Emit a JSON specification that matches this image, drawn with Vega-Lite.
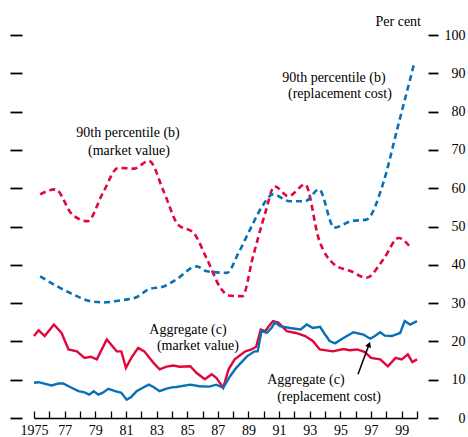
{
  "$schema": "https://vega.github.io/schema/vega-lite/v6.json",
  "width": 383,
  "height": 383,
  "autosize": {"type": "none"},
  "padding": {"left": 34, "top": 35, "right": 51, "bottom": 19},
  "background": "white",
  "config": {"view": {"stroke": null}, "font": "Liberation Serif"},
  "resolve": {"scale": {"y": "shared", "x": "shared"}, "axis": {"y": "independent", "x": "independent"}},
  "datasets": {
    "pct": [
      {"series": "mv", "year": 1975.4, "value": 58.4},
      {"series": "mv", "year": 1976.4, "value": 59.7},
      {"series": "mv", "year": 1977.5, "value": 53.1},
      {"series": "mv", "year": 1978.5, "value": 51.4},
      {"series": "mv", "year": 1979.5, "value": 58.8},
      {"series": "mv", "year": 1980.5, "value": 65.3},
      {"series": "mv", "year": 1981.5, "value": 65.1},
      {"series": "mv", "year": 1982.5, "value": 67.1},
      {"series": "mv", "year": 1983.5, "value": 58.8},
      {"series": "mv", "year": 1984.4, "value": 50.5},
      {"series": "mv", "year": 1985.4, "value": 48.4},
      {"series": "mv", "year": 1986.3, "value": 41.4},
      {"series": "mv", "year": 1987.2, "value": 33.8},
      {"series": "mv", "year": 1987.7, "value": 32.0},
      {"series": "mv", "year": 1988.6, "value": 31.8},
      {"series": "mv", "year": 1989.3, "value": 42.2},
      {"series": "mv", "year": 1990.1, "value": 53.6},
      {"series": "mv", "year": 1990.7, "value": 60.5},
      {"series": "mv", "year": 1991.6, "value": 57.9},
      {"series": "mv", "year": 1992.7, "value": 61.0},
      {"series": "mv", "year": 1993.6, "value": 46.6},
      {"series": "mv", "year": 1994.6, "value": 40.1},
      {"series": "mv", "year": 1995.7, "value": 38.3},
      {"series": "mv", "year": 1996.7, "value": 36.6},
      {"series": "mv", "year": 1997.8, "value": 41.4},
      {"series": "mv", "year": 1998.8, "value": 47.0},
      {"series": "mv", "year": 1999.6, "value": 44.4},
      {"series": "rc", "year": 1975.4, "value": 37.0},
      {"series": "rc", "year": 1976.5, "value": 34.4},
      {"series": "rc", "year": 1977.6, "value": 32.2},
      {"series": "rc", "year": 1978.7, "value": 30.5},
      {"series": "rc", "year": 1979.6, "value": 30.2},
      {"series": "rc", "year": 1980.6, "value": 30.7},
      {"series": "rc", "year": 1981.6, "value": 31.4},
      {"series": "rc", "year": 1982.5, "value": 33.6},
      {"series": "rc", "year": 1983.5, "value": 34.4},
      {"series": "rc", "year": 1984.3, "value": 36.2},
      {"series": "rc", "year": 1985.6, "value": 39.6},
      {"series": "rc", "year": 1986.3, "value": 38.3},
      {"series": "rc", "year": 1987.6, "value": 37.9},
      {"series": "rc", "year": 1988.3, "value": 42.7},
      {"series": "rc", "year": 1989.1, "value": 49.2},
      {"series": "rc", "year": 1989.9, "value": 55.3},
      {"series": "rc", "year": 1990.6, "value": 58.4},
      {"series": "rc", "year": 1991.7, "value": 56.6},
      {"series": "rc", "year": 1992.7, "value": 56.6},
      {"series": "rc", "year": 1993.6, "value": 59.7},
      {"series": "rc", "year": 1994.6, "value": 49.7},
      {"series": "rc", "year": 1995.7, "value": 51.4},
      {"series": "rc", "year": 1996.7, "value": 51.8},
      {"series": "rc", "year": 1997.8, "value": 61.4},
      {"series": "rc", "year": 1998.7, "value": 75.3},
      {"series": "rc", "year": 1999.8, "value": 92.3}
    ],
    "agg": [
      {"series": "mv", "year": 1975.0, "value": 21.4},
      {"series": "mv", "year": 1975.3, "value": 22.9},
      {"series": "mv", "year": 1975.7, "value": 21.4},
      {"series": "mv", "year": 1976.3, "value": 24.4},
      {"series": "mv", "year": 1976.8, "value": 22.2},
      {"series": "mv", "year": 1977.25, "value": 17.9},
      {"series": "mv", "year": 1977.8, "value": 17.4},
      {"series": "mv", "year": 1978.3, "value": 15.7},
      {"series": "mv", "year": 1978.7, "value": 16.0},
      {"series": "mv", "year": 1979.1, "value": 15.3},
      {"series": "mv", "year": 1979.75, "value": 20.5},
      {"series": "mv", "year": 1980.4, "value": 17.4},
      {"series": "mv", "year": 1980.7, "value": 17.4},
      {"series": "mv", "year": 1981.0, "value": 13.1},
      {"series": "mv", "year": 1981.35, "value": 15.7},
      {"series": "mv", "year": 1981.8, "value": 18.3},
      {"series": "mv", "year": 1982.2, "value": 17.4},
      {"series": "mv", "year": 1982.8, "value": 14.4},
      {"series": "mv", "year": 1983.2, "value": 12.7},
      {"series": "mv", "year": 1983.65, "value": 13.4},
      {"series": "mv", "year": 1984.1, "value": 13.7},
      {"series": "mv", "year": 1984.5, "value": 13.4},
      {"series": "mv", "year": 1985.2, "value": 13.5},
      {"series": "mv", "year": 1985.6, "value": 11.8},
      {"series": "mv", "year": 1986.15, "value": 10.1},
      {"series": "mv", "year": 1986.6, "value": 11.4},
      {"series": "mv", "year": 1986.9, "value": 10.5},
      {"series": "mv", "year": 1987.35, "value": 7.9},
      {"series": "mv", "year": 1987.7, "value": 12.7},
      {"series": "mv", "year": 1988.1, "value": 15.3},
      {"series": "mv", "year": 1988.8, "value": 17.4},
      {"series": "mv", "year": 1989.2, "value": 17.9},
      {"series": "mv", "year": 1989.5, "value": 18.6},
      {"series": "mv", "year": 1989.8, "value": 23.1},
      {"series": "mv", "year": 1990.1, "value": 22.7},
      {"series": "mv", "year": 1990.3, "value": 23.8},
      {"series": "mv", "year": 1990.6, "value": 25.3},
      {"series": "mv", "year": 1990.95, "value": 24.9},
      {"series": "mv", "year": 1991.5, "value": 22.7},
      {"series": "mv", "year": 1992.1, "value": 22.2},
      {"series": "mv", "year": 1992.7, "value": 21.4},
      {"series": "mv", "year": 1993.2, "value": 20.1},
      {"series": "mv", "year": 1993.65, "value": 17.9},
      {"series": "mv", "year": 1994.5, "value": 17.4},
      {"series": "mv", "year": 1995.2, "value": 18.0},
      {"series": "mv", "year": 1995.6, "value": 17.7},
      {"series": "mv", "year": 1996.1, "value": 17.9},
      {"series": "mv", "year": 1996.6, "value": 17.2},
      {"series": "mv", "year": 1997.0, "value": 15.7},
      {"series": "mv", "year": 1997.6, "value": 15.3},
      {"series": "mv", "year": 1998.1, "value": 13.5},
      {"series": "mv", "year": 1998.6, "value": 15.7},
      {"series": "mv", "year": 1999.0, "value": 15.3},
      {"series": "mv", "year": 1999.4, "value": 16.6},
      {"series": "mv", "year": 1999.7, "value": 14.6},
      {"series": "mv", "year": 2000.0, "value": 15.3},
      {"series": "rc", "year": 1975.0, "value": 9.2},
      {"series": "rc", "year": 1975.3, "value": 9.35},
      {"series": "rc", "year": 1976.15, "value": 8.5},
      {"series": "rc", "year": 1976.6, "value": 9.0},
      {"series": "rc", "year": 1976.9, "value": 9.0},
      {"series": "rc", "year": 1977.45, "value": 7.9},
      {"series": "rc", "year": 1977.9, "value": 7.0},
      {"series": "rc", "year": 1978.3, "value": 6.7},
      {"series": "rc", "year": 1978.6, "value": 6.1},
      {"series": "rc", "year": 1978.9, "value": 7.0},
      {"series": "rc", "year": 1979.2, "value": 6.1},
      {"series": "rc", "year": 1979.5, "value": 6.6},
      {"series": "rc", "year": 1979.85, "value": 7.6},
      {"series": "rc", "year": 1980.3, "value": 7.0},
      {"series": "rc", "year": 1980.7, "value": 6.6},
      {"series": "rc", "year": 1981.05, "value": 4.8},
      {"series": "rc", "year": 1981.35, "value": 5.5},
      {"series": "rc", "year": 1981.7, "value": 7.0},
      {"series": "rc", "year": 1982.1, "value": 7.9},
      {"series": "rc", "year": 1982.5, "value": 8.7},
      {"series": "rc", "year": 1982.8, "value": 8.1},
      {"series": "rc", "year": 1983.2, "value": 7.0},
      {"series": "rc", "year": 1983.6, "value": 7.6},
      {"series": "rc", "year": 1984.0, "value": 8.0},
      {"series": "rc", "year": 1984.3, "value": 8.1},
      {"series": "rc", "year": 1985.2, "value": 8.7},
      {"series": "rc", "year": 1985.8, "value": 8.3},
      {"series": "rc", "year": 1986.45, "value": 8.2},
      {"series": "rc", "year": 1986.9, "value": 8.7},
      {"series": "rc", "year": 1987.35, "value": 7.9},
      {"series": "rc", "year": 1987.8, "value": 10.9},
      {"series": "rc", "year": 1988.2, "value": 13.1},
      {"series": "rc", "year": 1988.9, "value": 16.1},
      {"series": "rc", "year": 1989.4, "value": 17.4},
      {"series": "rc", "year": 1989.6, "value": 17.4},
      {"series": "rc", "year": 1989.85, "value": 22.7},
      {"series": "rc", "year": 1990.2, "value": 22.2},
      {"series": "rc", "year": 1990.5, "value": 23.5},
      {"series": "rc", "year": 1990.73, "value": 25.0},
      {"series": "rc", "year": 1991.05, "value": 24.0},
      {"series": "rc", "year": 1991.7, "value": 23.5},
      {"series": "rc", "year": 1992.4, "value": 23.1},
      {"series": "rc", "year": 1992.8, "value": 24.4},
      {"series": "rc", "year": 1993.2, "value": 23.5},
      {"series": "rc", "year": 1993.67, "value": 23.8},
      {"series": "rc", "year": 1994.0, "value": 21.8},
      {"series": "rc", "year": 1994.3, "value": 20.1},
      {"series": "rc", "year": 1994.65, "value": 19.5},
      {"series": "rc", "year": 1995.2, "value": 20.9},
      {"series": "rc", "year": 1995.85, "value": 22.4},
      {"series": "rc", "year": 1996.5, "value": 21.8},
      {"series": "rc", "year": 1996.95, "value": 20.7},
      {"series": "rc", "year": 1997.25, "value": 21.4},
      {"series": "rc", "year": 1997.6, "value": 22.4},
      {"series": "rc", "year": 1997.9, "value": 21.5},
      {"series": "rc", "year": 1998.35, "value": 21.4},
      {"series": "rc", "year": 1998.9, "value": 22.2},
      {"series": "rc", "year": 1999.2, "value": 25.3},
      {"series": "rc", "year": 1999.55, "value": 24.4},
      {"series": "rc", "year": 2000.0, "value": 25.3}
    ],
    "notes": [
      {"label": "90th percentile (b)", "year": 1981.14, "value": 74.3},
      {"label": "(market value)", "year": 1981.2, "value": 69.8},
      {"label": "90th percentile (b)", "year": 1994.58, "value": 88.9},
      {"label": "(replacement cost)", "year": 1994.97, "value": 84.5},
      {"label": "Aggregate (c)", "year": 1985.05, "value": 23.1},
      {"label": "(market value)", "year": 1985.7, "value": 18.9},
      {"label": "Aggregate (c)", "year": 1992.75, "value": 10.05},
      {"label": "(replacement cost)", "year": 1994.26, "value": 5.6}
    ],
    "arrow": [
      {"year": 1996.15, "value": 11.4, "year2": 1996.87, "value2": 19.2}
    ]
  },
  "layer": [
    {
      "data": {"name": "pct"},
      "mark": {"type": "line", "strokeWidth": 2.6, "strokeDash": [6, 4], "interpolate": "monotone"},
      "encoding": {
        "x": {
          "field": "year", "type": "quantitative",
          "scale": {"domain": [1975, 2000], "nice": false, "zero": false},
          "axis": {
            "title": null, "grid": false,
            "values": [1975,1976,1977,1978,1979,1980,1981,1982,1983,1984,1985,1986,1987,1988,1989,1990,1991,1992,1993,1994,1995,1996,1997,1998,1999,2000],
            "labelExpr": "datum.value == 1975 ? '1975' : (datum.value % 2 == 1 ? slice(toString(datum.value), 2) : '')",
            "labelOverlap": false, "labelFlush": false, "labelBound": false,
            "tickSize": -7, "tickColor": "black", "tickWidth": 1.3,
            "domainColor": "black", "domainWidth": 1.5,
            "labelFont": "Liberation Serif", "labelFontSize": 14, "labelColor": "black",
            "labelPadding": 12, "labelBaseline": "top"
          }
        },
        "y": {
          "field": "value", "type": "quantitative",
          "scale": {"domain": [0, 100], "nice": false},
          "axis": {
            "orient": "left", "title": null, "grid": false, "domain": false,
            "labels": false, "values": [0,10,20,30,40,50,60,70,80,90,100],
            "offset": 12, "tickSize": 12, "tickWidth": 1.8, "tickColor": "black"
          }
        },
        "color": {
          "field": "series", "type": "nominal",
          "scale": {"domain": ["mv", "rc"], "range": ["#e2063c", "#0a70b5"]},
          "legend": null
        }
      }
    },
    {
      "data": {"name": "agg"},
      "mark": {"type": "line", "strokeWidth": 2.4},
      "encoding": {
        "x": {"field": "year", "type": "quantitative", "axis": null},
        "y": {
          "field": "value", "type": "quantitative",
          "axis": {
            "orient": "right", "title": null, "grid": false, "domain": false,
            "values": [0,10,20,30,40,50,60,70,80,90,100],
            "offset": 11, "tickSize": 10, "tickWidth": 1.8, "tickColor": "black",
            "labelFont": "Liberation Serif", "labelFontSize": 14, "labelColor": "black",
            "labelAlign": "right", "labelPadding": 27
          }
        },
        "color": {"field": "series", "type": "nominal", "legend": null}
      }
    },
    {
      "data": {"name": "notes"},
      "mark": {"type": "text", "font": "Liberation Serif", "fontSize": 14, "color": "black", "align": "center", "baseline": "middle"},
      "encoding": {
        "x": {"field": "year", "type": "quantitative", "axis": null},
        "y": {"field": "value", "type": "quantitative", "axis": null},
        "text": {"field": "label"}
      }
    },
    {
      "data": {"values": [{"label": "Per cent", "year": 2000, "value": 103.5}]},
      "mark": {"type": "text", "font": "Liberation Serif", "fontSize": 14, "color": "black", "align": "right", "baseline": "middle", "dx": 4},
      "encoding": {
        "x": {"field": "year", "type": "quantitative", "axis": null},
        "y": {"field": "value", "type": "quantitative", "axis": null},
        "text": {"field": "label"}
      }
    },
    {
      "data": {"name": "arrow"},
      "mark": {"type": "rule", "color": "black", "strokeWidth": 1.5},
      "encoding": {
        "x": {"field": "year", "type": "quantitative", "axis": null},
        "y": {"field": "value", "type": "quantitative", "axis": null},
        "x2": {"field": "year2"},
        "y2": {"field": "value2"}
      }
    },
    {
      "data": {"name": "arrow"},
      "mark": {"type": "point", "shape": "triangle-up", "filled": true, "color": "black", "size": 40, "angle": 20, "opacity": 1},
      "encoding": {
        "x": {"field": "year2", "type": "quantitative", "axis": null},
        "y": {"field": "value2", "type": "quantitative", "axis": null}
      }
    }
  ]
}
